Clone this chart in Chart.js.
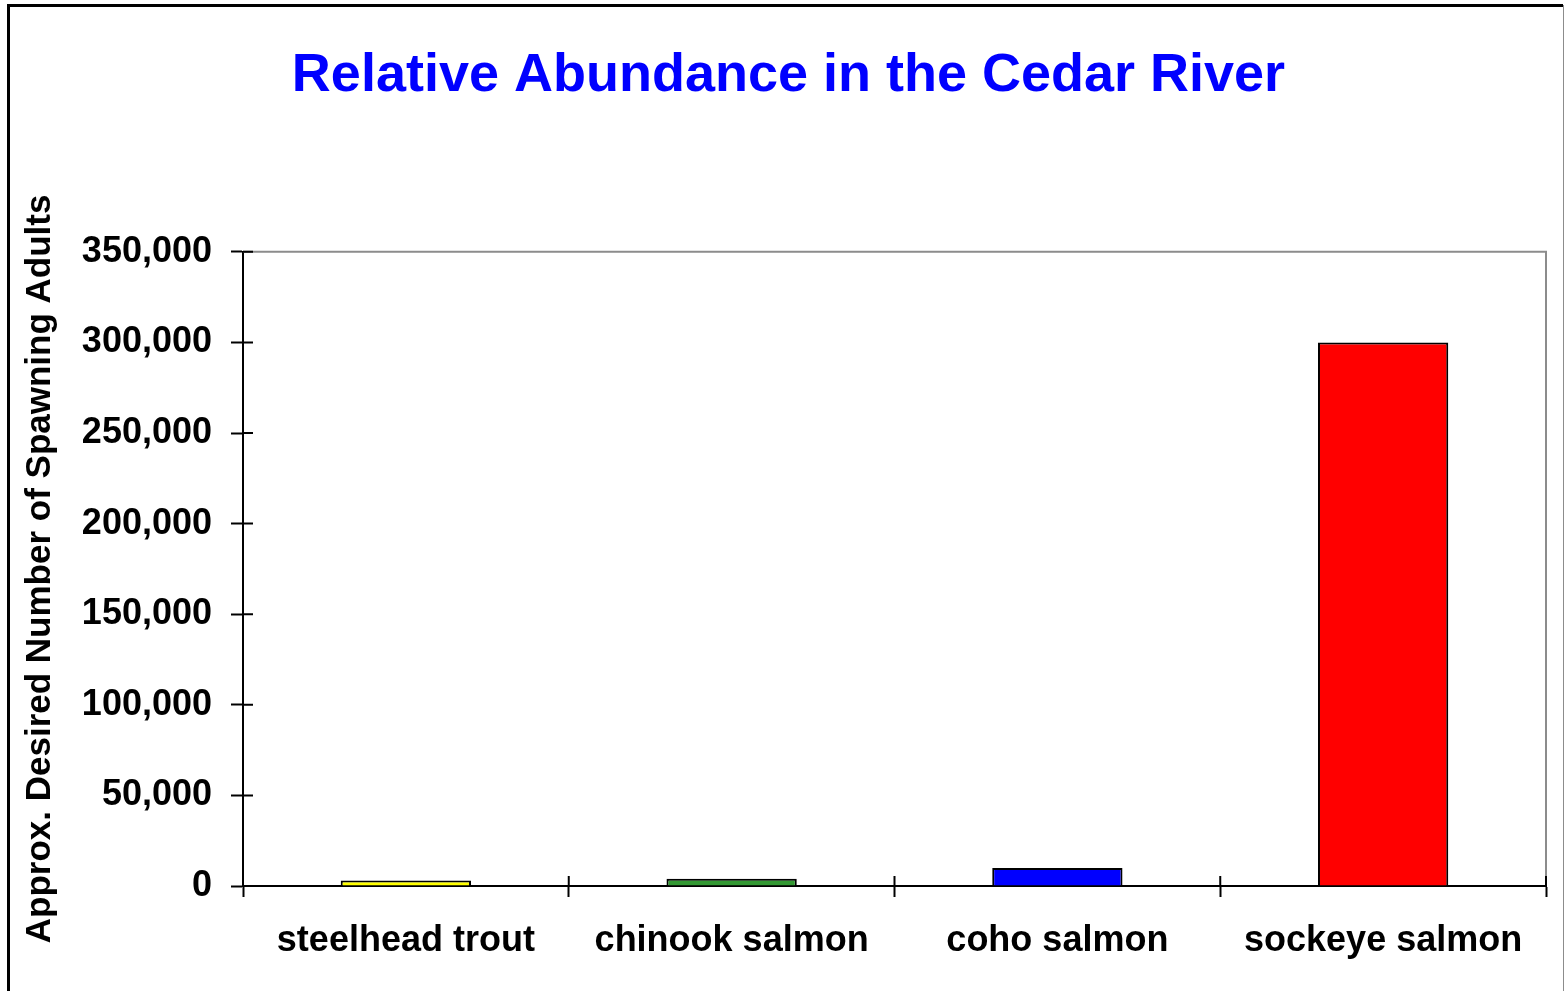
<!DOCTYPE html>
<html>
<head>
<meta charset="utf-8">
<title>Relative Abundance in the Cedar River</title>
<script src="https://cdn.jsdelivr.net/npm/chart.js@4.4.0/dist/chart.umd.min.js"></script>
<style>
  html, body { margin: 0; padding: 0; background: #fff; }
  canvas { display: block; }
</style>
</head>
<body>
<canvas id="abundance_chart" width="1564" height="991"></canvas>
<script>
// approx. desired number of spawning adults per species
var species = ["steelhead trout", "chinook salmon", "coho salmon", "sockeye salmon"];
var spawners = [3000, 4000, 10000, 300000];
var barColors = ["#FFFF00", "#339933", "#0000FF", "#FF0000"];
var yMax = 350000;
var yStep = 50000;

Chart.defaults.font.family = "'Liberation Sans', Arial, sans-serif";
Chart.defaults.color = "#000";

// Excel-style frame: outer page border, grey plot border, ticks that cross the axes
var chartFrame = {
    id: "chartFrame",
    afterDatasetsDraw: function (chart) {
        var ctx = chart.ctx;
        var area = chart.chartArea;
        var xs = chart.scales.x;
        var ys = chart.scales.y;
        ctx.save();

        ctx.strokeStyle = "#8c8c8c";
        ctx.lineWidth = 2;
        ctx.beginPath();
        ctx.moveTo(area.left, area.top);
        ctx.lineTo(area.right, area.top);
        ctx.lineTo(area.right, area.bottom);
        ctx.stroke();

        ctx.strokeStyle = "#000";
        ctx.lineWidth = 2;
        ctx.beginPath();
        ys.ticks.forEach(function (t) {
            var py = ys.getPixelForValue(t.value);
            ctx.moveTo(area.left, py);
            ctx.lineTo(area.left + 10, py);
        });
        var half = (xs.getPixelForValue(1) - xs.getPixelForValue(0)) / 2;
        for (var i = 0; i <= species.length; i++) {
            var px = xs.getPixelForValue(0) - half + i * 2 * half;
            ctx.moveTo(px, area.bottom);
            ctx.lineTo(px, area.bottom - 10);
        }
        ctx.stroke();
        ctx.restore();
    },
    afterDraw: function (chart) {
        var ctx = chart.ctx;
        ctx.save();
        ctx.strokeStyle = "#000";
        ctx.lineWidth = 3;
        ctx.beginPath();
        ctx.moveTo(8.5, chart.height);
        ctx.lineTo(8.5, 5.5);
        ctx.lineTo(1563, 5.5);
        ctx.stroke();
        ctx.strokeStyle = "#8c8c8c";
        ctx.lineWidth = 1;
        ctx.beginPath();
        ctx.moveTo(1563.5, 5);
        ctx.lineTo(1563.5, chart.height);
        ctx.stroke();
        ctx.restore();
    }
};

window.abundanceChart = new Chart(document.getElementById("abundance_chart").getContext("2d"), {
    type: "bar",
    data: {
        labels: species,
        datasets: [{
            label: "Spawning adults",
            data: spawners,
            backgroundColor: barColors,
            borderColor: "#000",
            borderWidth: 2,
            barPercentage: 0.4,
            categoryPercentage: 1.0
        }]
    },
    plugins: [chartFrame],
    options: {
        responsive: false,
        animation: false,
        devicePixelRatio: 1,
        locale: "en-US",
        layout: {
            padding: { left: 31, right: 18, top: 0, bottom: 0 }
        },
        plugins: {
            legend: { display: false },
            tooltip: { enabled: false },
            title: {
                display: true,
                text: "Relative Abundance in the Cedar River",
                color: "#0000FF",
                font: { size: 54, weight: "bold", lineHeight: 1.2 },
                padding: { top: 44, bottom: 143 }
            }
        },
        scales: {
            x: {
                grid: {
                    offset: true,
                    drawOnChartArea: false,
                    drawTicks: true,
                    tickLength: 11,
                    tickColor: "#000",
                    tickWidth: 2
                },
                border: { display: true, color: "#000", width: 2 },
                ticks: {
                    padding: 22,
                    font: { size: 36, weight: "bold" },
                    maxRotation: 0,
                    autoSkip: false
                },
                afterFit: function (scale) { scale.height = 105; }
            },
            y: {
                min: 0,
                max: yMax,
                grid: {
                    drawOnChartArea: false,
                    drawTicks: true,
                    tickLength: 12,
                    tickColor: "#000",
                    tickWidth: 2
                },
                border: { display: true, color: "#000", width: 2 },
                ticks: {
                    stepSize: yStep,
                    padding: 19,
                    font: { size: 36, weight: "bold" },
                    callback: function (v) { return v.toLocaleString("en-US"); }
                },
                title: {
                    display: true,
                    text: "Approx. Desired Number of Spawning Adults",
                    font: { size: 35, weight: "bold", lineHeight: 0.55 },
                    padding: 0
                },
                afterFit: function (scale) { scale.width = 212; }
            }
        }
    }
});
</script>
</body>
</html>
